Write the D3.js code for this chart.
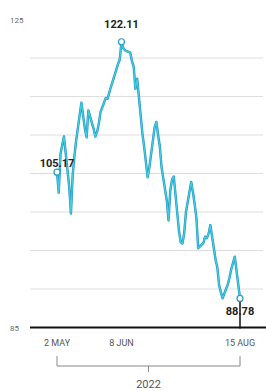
<!DOCTYPE html>
<html>
<head>
<meta charset="utf-8">
<script src="https://cdn.jsdelivr.net/npm/d3@7"></script>
<style>
  body { margin: 0; background: #fff; }
  svg { display: block; font-family: Roboto, "Noto Sans", sans-serif; }
</style>
</head>
<body>
<svg id="chart" width="266" height="391"></svg>
<script>
// trading days and closing values
var dates = [
  "2022-05-02","2022-05-03","2022-05-04","2022-05-05","2022-05-06",
  "2022-05-09","2022-05-10","2022-05-11","2022-05-12","2022-05-13",
  "2022-05-16","2022-05-17","2022-05-18","2022-05-19","2022-05-20",
  "2022-05-23","2022-05-24","2022-05-25","2022-05-26","2022-05-27",
  "2022-05-30","2022-05-31","2022-06-01","2022-06-02","2022-06-03",
  "2022-06-06","2022-06-07","2022-06-08","2022-06-09","2022-06-10",
  "2022-06-13","2022-06-14","2022-06-15","2022-06-16","2022-06-17",
  "2022-06-20","2022-06-21","2022-06-22","2022-06-23","2022-06-24",
  "2022-06-27","2022-06-28","2022-06-29","2022-06-30","2022-07-01",
  "2022-07-04","2022-07-05","2022-07-06","2022-07-07","2022-07-08",
  "2022-07-11","2022-07-12","2022-07-13","2022-07-14","2022-07-15",
  "2022-07-18","2022-07-19","2022-07-20","2022-07-21","2022-07-22",
  "2022-07-25","2022-07-26","2022-07-27","2022-07-28","2022-07-29",
  "2022-08-01","2022-08-02","2022-08-03","2022-08-04","2022-08-05",
  "2022-08-08","2022-08-09","2022-08-10","2022-08-11","2022-08-12",
  "2022-08-15"
];
var prices = [
  105.17, 102.5, 107.5, 108.7, 109.8,
  103.3, 99.8, 104.8, 107.3, 109.3,
  114.2, 112.5, 110.8, 109.7, 113.2,
  110.8, 109.8, 110.4, 111.5, 113.0,
  114.8, 114.7, 115.5, 116.3, 117.0,
  119.2, 119.8, 122.11, 121.3, 121.0,
  120.7, 119.6, 118.9, 116.0, 117.3,
  110.2, 108.5, 106.5, 104.5, 105.8,
  111.0, 111.7, 110.0, 108.5, 105.8,
  101.5, 98.9, 102.8, 104.2, 104.6,
  97.5, 96.1, 95.9, 97.3, 100.0,
  103.9, 102.6, 101.0, 99.2, 95.3,
  96.0, 96.8, 96.6, 97.2, 98.3,
  93.8, 92.8, 90.5, 89.6, 88.8,
  90.6, 91.5, 92.6, 93.4, 94.2,
  88.78
];
var gridValues = [90, 95, 100, 105, 110, 115, 120];
var yLabels = [85, 125];
var xTicks = ["2022-05-02", "2022-06-08", "2022-08-15"];
var xTickLabels = ["2 MAY", "8 JUN", "15 AUG"];
var yearLabel = "2022";

var parse = d3.timeParse("%Y-%m-%d");
var data = dates.map(function(d, i) { return { date: parse(d), value: prices[i] }; });

var svg = d3.select("#chart");

var x = d3.scaleTime()
  .domain([parse(dates[0]), parse(dates[dates.length - 1])])
  .range([57, 240]);
var y = d3.scaleLinear().domain([85, 125]).range([327.5, 19.5]);

// gridlines
svg.append("g").selectAll("line")
  .data(gridValues).enter().append("line")
  .attr("x1", 30).attr("x2", 263)
  .attr("y1", function(d) { return y(d); })
  .attr("y2", function(d) { return y(d); })
  .attr("stroke", "#dedede").attr("stroke-width", 1);

// y labels (only the ends)
svg.append("g").selectAll("text")
  .data(yLabels).enter().append("text")
  .attr("x", 10)
  .attr("y", function(d) { return y(d) + 3; })
  .attr("font-size", 8).attr("fill", "#666")
  .text(function(d) { return d; });

// price line, blue edge with cyan core
var line = d3.line()
  .x(function(d) { return x(d.date); })
  .y(function(d) { return y(d.value); });

svg.append("path").datum(data)
  .attr("d", line).attr("fill", "none")
  .attr("stroke", "#1f8fc2").attr("stroke-width", 2.4)
  .attr("stroke-linejoin", "round");
svg.append("path").datum(data)
  .attr("d", line).attr("fill", "none")
  .attr("stroke", "#40cfdf").attr("stroke-width", 1.3)
  .attr("stroke-linejoin", "round");

// drop line from last point to axis
var last = data[data.length - 1];
var first = data[0];
var peak = data.reduce(function(a, b) { return b.value > a.value ? b : a; });

svg.append("line")
  .attr("x1", x(last.date)).attr("x2", x(last.date))
  .attr("y1", y(last.value) + 3).attr("y2", y(85) + 1)
  .attr("stroke", "#111").attr("stroke-width", 1.5);

// x axis line
svg.append("line")
  .attr("x1", 30).attr("x2", 266)
  .attr("y1", y(85)).attr("y2", y(85))
  .attr("stroke", "#111").attr("stroke-width", 2);

// marker circles
svg.append("g").selectAll("circle")
  .data([first, peak, last]).enter().append("circle")
  .attr("cx", function(d) { return x(d.date); })
  .attr("cy", function(d) { return y(d.value); })
  .attr("r", 3)
  .attr("fill", "#fff").attr("stroke", "#2a9cc6").attr("stroke-width", 1.2);

// value labels
function valueLabel(d, dx, dy) {
  svg.append("text")
    .attr("x", x(d.date) + dx).attr("y", y(d.value) + dy)
    .attr("text-anchor", "middle")
    .attr("font-size", 11).attr("font-weight", "bold").attr("fill", "#222")
    .text(d.value.toFixed(2));
}
valueLabel(peak, 0, -14);
valueLabel(first, 0, -5);
valueLabel(last, 0, 17);

// x tick labels
svg.append("g").selectAll("text")
  .data(xTicks).enter().append("text")
  .attr("x", function(d) { return x(parse(d)); })
  .attr("y", 346)
  .attr("text-anchor", "middle")
  .attr("font-size", 9).attr("fill", "#555")
  .text(function(d, i) { return xTickLabels[i]; });

// year bracket
var bx0 = x(parse(dates[0])), bx1 = x(parse(dates[dates.length - 1]));
var bmid = (bx0 + bx1) / 2;
svg.append("path")
  .attr("d", "M" + bx0 + ",356V366H" + bx1 + "V356M" + bmid + ",366V372")
  .attr("fill", "none").attr("stroke", "#888").attr("stroke-width", 1);
svg.append("text")
  .attr("x", bmid).attr("y", 388)
  .attr("text-anchor", "middle")
  .attr("font-size", 11).attr("fill", "#555")
  .text(yearLabel);
</script>
</body>
</html>
